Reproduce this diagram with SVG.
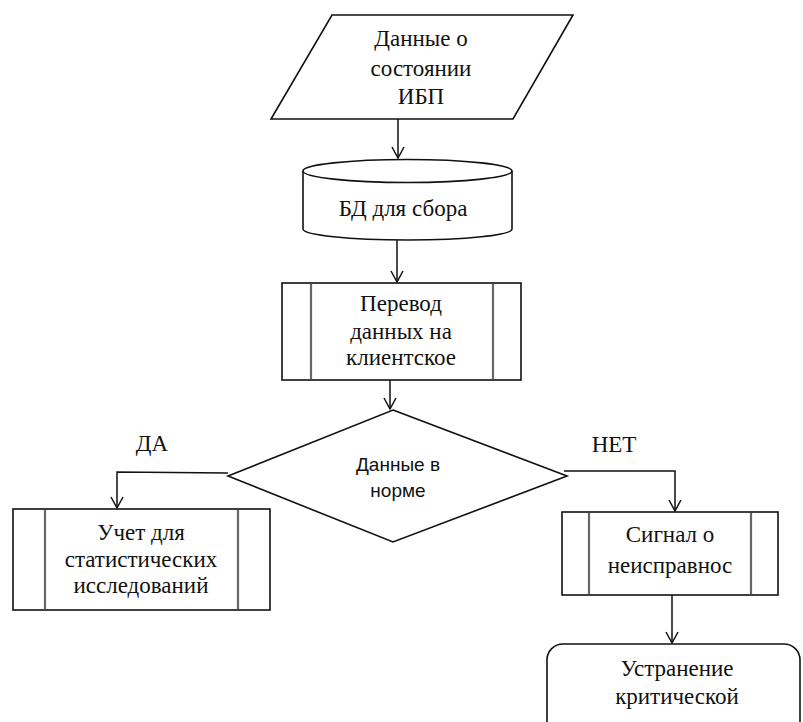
<svg xmlns="http://www.w3.org/2000/svg" width="803" height="722" viewBox="0 0 803 722">
<defs>
<marker id="ah" viewBox="0 0 14 14" refX="12" refY="7" markerWidth="14" markerHeight="14" markerUnits="userSpaceOnUse" orient="auto">
<path d="M1,1 L12,7 L1,13" fill="none" stroke="#111" stroke-width="1.5"/>
</marker>
<style>
.s{fill:#fff;stroke:#111;stroke-width:1.6}
.in{stroke:#666;stroke-width:2.2;fill:none}
.t{font-family:"Liberation Serif","Times New Roman",serif;font-size:23px;fill:#111;text-anchor:middle}
.ts{font-family:"Liberation Sans",Arial,sans-serif;font-size:19px;fill:#111;text-anchor:middle}
.c{fill:none;stroke:#111;stroke-width:1.5}
</style>
</defs>
<rect width="803" height="722" fill="#fff"/>
<g id="connectors">
<path class="c" d="M398,119 L398,158" marker-end="url(#ah)"/>
<path class="c" d="M397,240 L397,282" marker-end="url(#ah)"/>
<path class="c" d="M390,380 L390,409" marker-end="url(#ah)"/>
<path class="c" d="M228,473 L117,472 L117,508" marker-end="url(#ah)"/>
<path class="c" d="M564,471 L675,471 L675,511" marker-end="url(#ah)"/>
<path class="c" d="M672,595 L672,643" marker-end="url(#ah)"/>
</g>
<g id="n1">
<polygon class="s" points="332,15 573,15 513,119 271,119"/>
<text class="t" x="421" y="46">Данные о</text>
<text class="t" x="421" y="76">состоянии</text>
<text class="t" x="421" y="104">ИБП</text>
</g>
<g id="n2">
<path class="s" d="M303,171 L303,229 A104.5,11 0 0 0 512,229 L512,171"/>
<ellipse class="s" cx="407.5" cy="171" rx="104.5" ry="11.5"/>
<text class="t" x="403" y="216">БД для сбора</text>
</g>
<g id="n3">
<rect class="s" x="282" y="283" width="239" height="97"/>
<line class="in" x1="311" y1="284" x2="311" y2="379"/>
<line class="in" x1="493" y1="284" x2="493" y2="379"/>
<text class="t" x="401" y="311">Перевод</text>
<text class="t" x="401" y="339">данных на</text>
<text class="t" x="401" y="365">клиентское</text>
</g>
<g id="n4">
<polygon class="s" points="393,410 567,476 393,542 228,476"/>
<text class="ts" x="398" y="471">Данные в</text>
<text class="ts" x="398" y="497">норме</text>
</g>
<text class="t" x="152" y="451">ДА</text>
<text class="t" x="614" y="452">НЕТ</text>
<g id="n5">
<rect class="s" x="13" y="509" width="257" height="101"/>
<line class="in" x1="45" y1="510" x2="45" y2="609"/>
<line class="in" x1="238" y1="510" x2="238" y2="609"/>
<text class="t" x="141" y="540">Учет для</text>
<text class="t" x="141" y="567">статистических</text>
<text class="t" x="141" y="593">исследований</text>
</g>
<g id="n6">
<rect class="s" x="562" y="512" width="216" height="83"/>
<line class="in" x1="589" y1="513" x2="589" y2="594"/>
<line class="in" x1="751" y1="513" x2="751" y2="594"/>
<text class="t" x="670" y="542">Сигнал о</text>
<text class="t" x="670" y="573">неисправнос</text>
</g>
<g id="n7">
<rect class="s" x="547" y="644" width="253" height="100" rx="16" ry="16"/>
<text class="t" x="677" y="676">Устранение</text>
<text class="t" x="677" y="704">критической</text>
</g>
</svg>
